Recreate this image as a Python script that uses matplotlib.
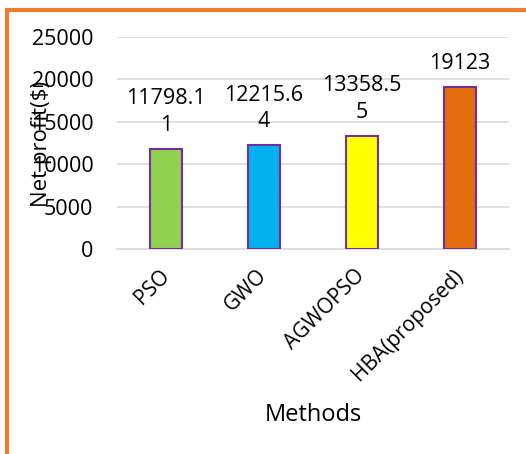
import matplotlib
matplotlib.use("Agg")
import matplotlib.pyplot as plt
from matplotlib.patches import Rectangle

methods = ["PSO", "GWO", "AGWOPSO", "HBA(proposed)"]
profit = [11798.11, 12215.64, 13358.55, 19123]
labels = ["11798.1\n1", "12215.6\n4", "13358.5\n5", "19123"]
colors = ["#92D050", "#00B0F0", "#FFFF00", "#E46C0A"]
yticks = [0, 5000, 10000, 15000, 20000, 25000]

plt.rcParams['font.family'] = ['Open Sans', 'DejaVu Sans']

fig = plt.figure(figsize=(5.26, 4.54), dpi=100)
W, H = 526, 454
ax = fig.add_axes([117 / W, 1 - 249 / H, (509 - 117) / W, (249 - 37) / H])

x = range(len(methods))
bars = ax.bar(x, profit, width=0.32, color=colors, edgecolor="#7030A0", linewidth=1.5, zorder=3)
for xi, v, lab in zip(x, profit, labels):
    ax.annotate(lab, (xi, v), xytext=(0, 9.5), textcoords="offset points",
                ha="center", va="bottom", fontsize=15.5, linespacing=1.35)

ax.set_ylim(0, 25000)
ax.set_xlim(-0.5, 3.5)
ax.set_yticks(yticks)
ax.set_yticklabels([str(t) for t in yticks], fontsize=15.5)
ax.set_xticks(list(x))
ax.set_xticklabels(methods, rotation=45, ha="right", va="center", rotation_mode="anchor", fontsize=15)
ax.tick_params(axis="both", length=0)
ax.tick_params(axis="y", pad=17)
ax.tick_params(axis="x", pad=17)
ax.grid(axis="y", color="#D9D9D9", linewidth=1.2, zorder=0)
for s in ["top", "right", "left"]:
    ax.spines[s].set_visible(False)
ax.spines["bottom"].set_color("#D9D9D9")
ax.spines["bottom"].set_linewidth(1.2)

fig.text(41 / W, 1 - 144 / H, "Net profit($)", rotation=90, ha="center", va="center", fontsize=16)
fig.text(313 / W, 1 - 415 / H, "Methods", ha="center", va="center", fontsize=17)

fig.patches.append(Rectangle((7 / W, -0.1), 1.2, 1 - 10 / H + 0.1, transform=fig.transFigure,
                             fill=False, edgecolor="#ED7D31", linewidth=3))

fig.savefig("out.png", dpi=100)
